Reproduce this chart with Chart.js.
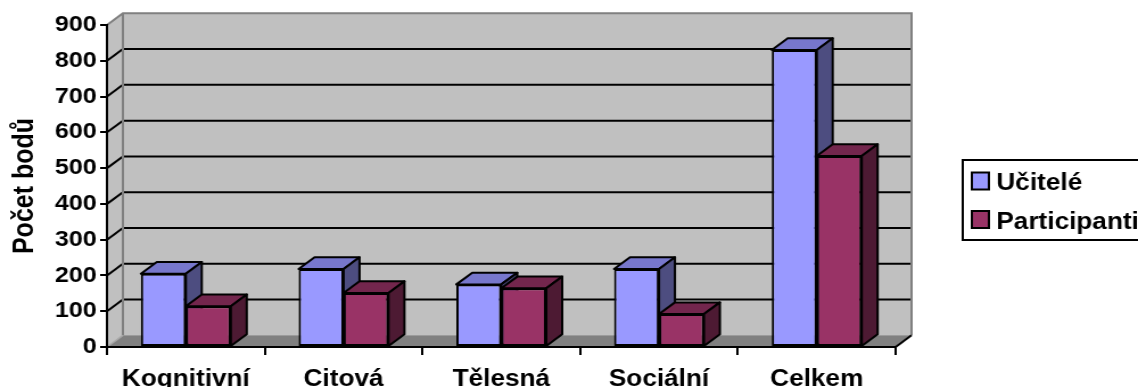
<!DOCTYPE html>
<html>
<head>
<meta charset="utf-8">
<script src="https://cdn.jsdelivr.net/npm/chart.js@4"></script>
<style>
  html, body { margin: 0; background: #fff; }
</style>
</head>
<body>
<canvas id="chart" width="1000" height="387" style="display:block;width:1138px;height:387px"></canvas>
<script>
const categories   = ['Kognitivní', 'Citová', 'Tělesná', 'Sociální', 'Celkem'];
const ucitele      = [205, 218, 175, 218, 830];
const participanti = [114, 151, 164, 92, 534];
const seriesNames  = ['Učitelé', 'Participanti'];
const yMax  = 900;
const yStep = 100;

const FONT = 'Liberation Sans, Arial, sans-serif';
// depth of the fake 3D box
const DX = 14, DY = -11.7;
const faces = [
    { front: '#9999FF', top: '#7777CC', side: '#4D4D80' },
    { front: '#993366', top: '#73264D', side: '#4D1A33' }
];

function poly(ctx, pts, fill, stroke, lw) {
    ctx.beginPath();
    ctx.moveTo(pts[0][0], pts[0][1]);
    pts.slice(1).forEach(p => ctx.lineTo(p[0], p[1]));
    ctx.closePath();
    if (fill) { ctx.fillStyle = fill; ctx.fill(); }
    if (stroke) { ctx.strokeStyle = stroke; ctx.lineWidth = lw || 2; ctx.stroke(); }
}

function line(ctx, pts, color, lw) {
    ctx.beginPath();
    ctx.moveTo(pts[0][0], pts[0][1]);
    pts.slice(1).forEach(p => ctx.lineTo(p[0], p[1]));
    ctx.strokeStyle = color;
    ctx.lineWidth = lw || 2;
    ctx.stroke();
}

const box3d = {
    id: 'box3d',
    beforeDraw(chart) {
        const { ctx, chartArea: a, scales: { y } } = chart;
        const y0 = y.getPixelForValue(0);
        const yT = y.getPixelForValue(yMax);
        ctx.save();
        ctx.fillStyle = '#fff';
        ctx.fillRect(0, 0, chart.width, chart.height);

        // walls and floor
        poly(ctx, [[a.left, yT], [a.left + DX, yT + DY], [a.left + DX, y0 + DY], [a.left, y0]], '#C0C0C0');
        ctx.fillStyle = '#C0C0C0';
        ctx.fillRect(a.left + DX, yT + DY, a.right - a.left, y0 - yT);
        poly(ctx, [[a.left, y0], [a.left + DX, y0 + DY], [a.right + DX, y0 + DY], [a.right, y0]], '#808080');

        // gridlines on side + back wall
        for (let v = yStep; v < yMax; v += yStep) {
            const p = y.getPixelForValue(v);
            line(ctx, [[a.left, p], [a.left + DX, p + DY], [a.right + DX, p + DY]], '#000', 2);
        }

        // wall edges
        line(ctx, [[a.left, yT], [a.left + DX, yT + DY], [a.right + DX, yT + DY], [a.right + DX, y0 + DY]], '#808080', 2);
        line(ctx, [[a.left + DX, yT + DY], [a.left + DX, y0 + DY]], '#808080', 2);
        line(ctx, [[a.left, y0], [a.left + DX, y0 + DY]], '#A8A8A8', 1.5);
        ctx.restore();
    },
    beforeDatasetsDraw(chart) {
        const { ctx, chartArea: a, scales: { y } } = chart;
        const metas = chart.data.datasets.map((d, i) => chart.getDatasetMeta(i));
        ctx.save();
        ctx.lineJoin = 'round';
        categories.forEach((c, i) => {
            metas.forEach((m, d) => {
                const bar = m.data[i];
                const { x, y: top, base, width } = bar.getProps(['x', 'y', 'base', 'width'], true);
                const L = x - width / 2, R = x + width / 2;
                bar.draw(ctx);
                poly(ctx, [[L, top], [L + DX, top + DY], [R + DX, top + DY], [R, top]], faces[d].top, '#000', 2);
                poly(ctx, [[R, top], [R + DX, top + DY], [R + DX, base + DY], [R, base]], faces[d].side, '#000', 2);
            });
        });
        const y0 = y.getPixelForValue(0);
        line(ctx, [[a.right, y0], [a.right + DX, y0 + DY]], '#000', 2);
        ctx.restore();
        return false;
    },
    afterDraw(chart) {
        const ctx = chart.ctx;
        ctx.save();
        ctx.fillStyle = '#fff';
        ctx.fillRect(846, 160, 170, 80);
        ctx.strokeStyle = '#000';
        ctx.lineWidth = 2;
        ctx.strokeRect(846, 160, 170, 80);
        ctx.font = 'bold 23px ' + FONT;
        ctx.textBaseline = 'alphabetic';
        const rows = [{ sq: 172.5, base: 190 }, { sq: 211, base: 229 }];
        chart.data.datasets.forEach((ds, i) => {
            ctx.fillStyle = ds.backgroundColor;
            ctx.fillRect(854, rows[i].sq, 15, 17);
            ctx.strokeRect(854, rows[i].sq, 15, 17);
            ctx.fillStyle = '#000';
            ctx.fillText(ds.label, 875.5, rows[i].base);
        });
        ctx.restore();
    }
};

new Chart(document.getElementById('chart'), {
    type: 'bar',
    data: {
        labels: categories,
        datasets: [
            {
                label: seriesNames[0],
                data: ucitele,
                backgroundColor: faces[0].front,
                borderColor: '#000',
                borderWidth: 2,
                borderSkipped: false
            },
            {
                label: seriesNames[1],
                data: participanti,
                backgroundColor: faces[1].front,
                borderColor: '#000',
                borderWidth: 2,
                borderSkipped: false
            }
        ]
    },
    options: {
        responsive: false,
        animation: false,
        devicePixelRatio: 1,
        layout: { padding: { top: 25, right: 213, bottom: 0, left: 0 } },
        datasets: { bar: { categoryPercentage: 0.57, barPercentage: 1.0 } },
        plugins: { legend: { display: false }, tooltip: { enabled: false } },
        scales: {
            x: {
                grid: { drawOnChartArea: false, color: '#000', lineWidth: 2, tickLength: 8, offset: true },
                border: { color: '#000', width: 2 },
                ticks: {
                    color: '#000', padding: 11, maxRotation: 0, autoSkip: false,
                    font: { family: FONT, size: 23, weight: 'bold' }
                },
                afterFit(s) { s.height = 40; }
            },
            y: {
                min: 0,
                max: yMax,
                grid: { drawOnChartArea: false, color: '#000', lineWidth: 2, tickLength: 6 },
                border: { color: '#000', width: 2 },
                ticks: {
                    stepSize: yStep, color: '#000', padding: 3,
                    font: { family: FONT, size: 22, weight: 'bold' }
                },
                title: {
                    display: true, text: 'Počet bodů', color: '#000',
                    font: { family: FONT, size: 25, weight: 'bold' },
                    padding: { top: 7, bottom: 0 }
                },
                afterFit(s) { s.width = 94; }
            }
        }
    },
    plugins: [box3d]
});
</script>
</body>
</html>
